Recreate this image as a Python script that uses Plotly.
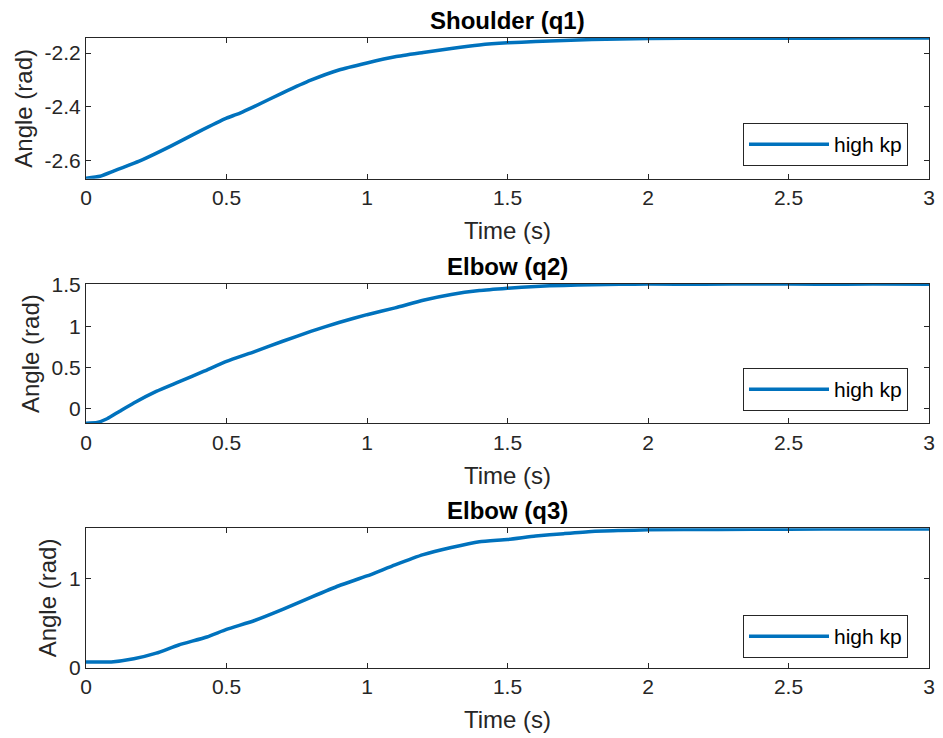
import plotly.graph_objects as go

# ---- data ----
t_q1 = [0, 0.05, 0.1, 0.2, 0.3, 0.4, 0.5, 0.53, 0.55, 0.6, 0.7, 0.8, 0.9, 1.0,
        1.1, 1.2, 1.3, 1.4, 1.5, 1.6, 1.7, 1.8, 1.9, 2.0, 2.25, 2.5, 2.75, 3.0]
q1 = [-2.665, -2.658, -2.638, -2.597, -2.547, -2.493, -2.442, -2.430, -2.422,
      -2.398, -2.348, -2.301, -2.263, -2.237, -2.214, -2.198, -2.183, -2.170,
      -2.162, -2.157, -2.153, -2.150, -2.148, -2.146, -2.145, -2.145, -2.144, -2.144]

t_q2 = [0, 0.04, 0.075, 0.12, 0.17, 0.25, 0.33, 0.42, 0.5, 0.6, 0.7, 0.8, 0.9, 1.0,
        1.1, 1.2, 1.3, 1.4, 1.5, 1.6, 1.7, 1.8, 1.9, 2.0, 2.2, 2.4, 2.6, 2.8, 3.0]
q2 = [-0.175, -0.167, -0.122, -0.03, 0.07, 0.21, 0.325, 0.455, 0.573, 0.692,
      0.818, 0.937, 1.045, 1.14, 1.222, 1.315, 1.385, 1.432, 1.46, 1.483, 1.495,
      1.503, 1.508, 1.511, 1.508, 1.513, 1.508, 1.513, 1.51]

t_q3 = [0, 0.09, 0.17, 0.25, 0.33, 0.43, 0.5, 0.6, 0.7, 0.8, 0.9, 1.0, 1.1, 1.2,
        1.3, 1.4, 1.5, 1.6, 1.7, 1.8, 1.9, 2.0, 2.25, 2.5, 2.75, 3.0]
q3 = [0.065, 0.065, 0.10, 0.163, 0.255, 0.345, 0.43, 0.53, 0.655, 0.79, 0.92,
      1.03, 1.155, 1.27, 1.35, 1.415, 1.44, 1.478, 1.505, 1.53, 1.54, 1.548,
      1.552, 1.555, 1.557, 1.558]

titles = ["Shoulder (q1)", "Elbow (q2)", "Elbow (q3)"]
series_name = "high kp"
x_ticks = [0, 0.5, 1, 1.5, 2, 2.5, 3]
x_ticktext = ["0", "0.5", "1", "1.5", "2", "2.5", "3"]
y_ticks = [[-2.6, -2.4, -2.2], [0, 0.5, 1, 1.5], [0, 1]]
y_ticktext = [["-2.6", "-2.4", "-2.2"], ["0", "0.5", "1", "1.5"], ["0", "1"]]
y_ranges = [[-2.667, -2.144], [-0.177, 1.512], [0, 1.565]]

# ---- layout constants ----
W, H = 943, 738
LINE_COLOR = "#0072BD"
AX_COLOR = "#262626"
FONT = "Liberation Sans, Arial, Helvetica, sans-serif"
x_dom = [86 / W, 929 / W]
y_doms_px = [(38, 178.7), (284, 423.3), (528.3, 667.7)]
legend_bottom_px = [166, 411, 658]

fig = go.Figure()
series = [(t_q1, q1), (t_q2, q2), (t_q3, q3)]
for i, (tt, qq) in enumerate(series):
    sfx = "" if i == 0 else str(i + 1)
    fig.add_trace(go.Scatter(
        x=tt, y=qq, mode="lines", name=series_name,
        line=dict(color=LINE_COLOR, width=3.5, shape="spline", smoothing=0.5),
        xaxis="x" + sfx, yaxis="y" + sfx,
        legend="legend" + sfx, showlegend=True,
    ))

layout = dict(
    width=W, height=H, margin=dict(l=0, r=0, t=0, b=0),
    paper_bgcolor="white", plot_bgcolor="white",
    font=dict(family=FONT, color=AX_COLOR, size=21),
    annotations=[],
)
for i in range(3):
    sfx = "" if i == 0 else str(i + 1)
    top_px, bot_px = y_doms_px[i]
    ydom = [1 - bot_px / H, 1 - top_px / H]
    layout["xaxis" + sfx] = dict(
        domain=x_dom, anchor="y" + sfx, range=[0, 3],
        tickvals=x_ticks, ticktext=x_ticktext,
        ticks="inside", ticklen=5, tickwidth=1, tickcolor=AX_COLOR,
        showline=True, linecolor=AX_COLOR, linewidth=1, mirror="ticks",
        showgrid=False, zeroline=False,
        tickfont=dict(size=21, color=AX_COLOR),
        title=dict(text="Time (s)", font=dict(size=24, color=AX_COLOR), standoff=14),
        automargin=False,
    )
    layout["yaxis" + sfx] = dict(
        domain=ydom, anchor="x" + sfx, range=y_ranges[i],
        tickvals=y_ticks[i], ticktext=y_ticktext[i],
        ticks="inside", ticklen=5, tickwidth=1, tickcolor=AX_COLOR,
        showline=True, linecolor=AX_COLOR, linewidth=1, mirror="ticks",
        showgrid=False, zeroline=False,
        tickfont=dict(size=21, color=AX_COLOR),
        title=dict(text="Angle (rad)", font=dict(size=24, color=AX_COLOR), standoff=5),
        automargin=False,
    )
    layout["legend" + sfx] = dict(
        x=908 / W, xanchor="right",
        y=1 - legend_bottom_px[i] / H, yanchor="bottom",
        bgcolor="white", bordercolor=AX_COLOR, borderwidth=1,
        font=dict(size=21, color="black"), itemwidth=80,
    )
    layout["annotations"].append(dict(
        text="<b>" + titles[i] + "</b>", xref="paper", yref="paper",
        x=(x_dom[0] + x_dom[1]) / 2, y=ydom[1], xanchor="center", yanchor="bottom",
        yshift=2, showarrow=False, font=dict(size=24, color="black", family=FONT),
    ))

fig.update_layout(**layout)
fig.write_html("out.html")
